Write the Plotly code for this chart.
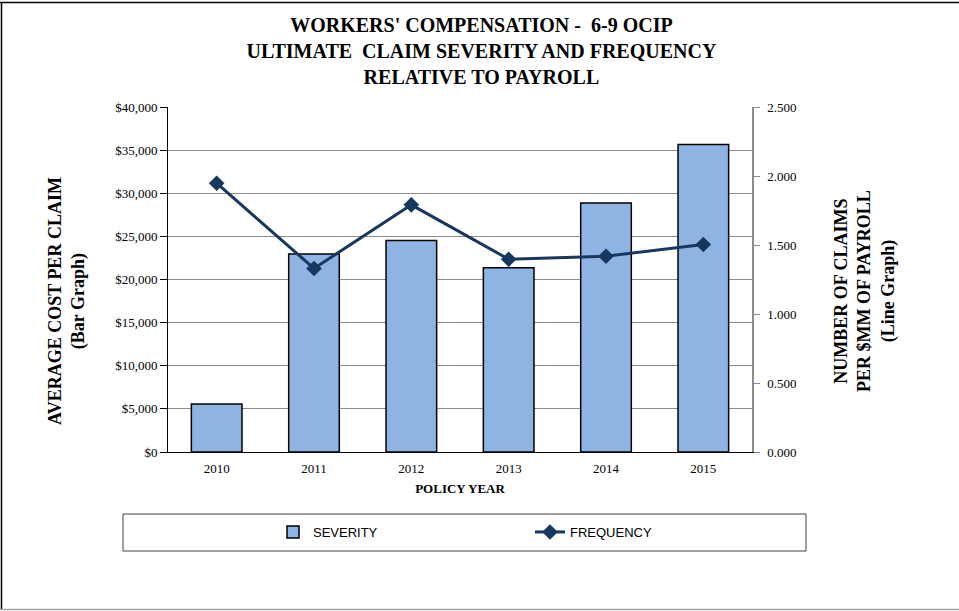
import plotly.graph_objects as go

# Policy years and the two measures plotted against them
years = ["2010", "2011", "2012", "2013", "2014", "2015"]
severity = [5560, 22970, 24520, 21350, 28880, 35640]        # average cost per claim ($)
frequency = [1.948, 1.330, 1.791, 1.397, 1.419, 1.504]      # claims per $MM of payroll

W, H = 959, 611
L, R, T, B = 168, 207, 107, 159
PW, PH = W - L - R, H - T - B


def px_x(x):
    """Pixel column -> paper x."""
    return (x - L) / PW


def px_y(y):
    """Pixel row -> paper y."""
    return (H - B - y) / PH


SERIF = "Liberation Serif"
SANS = "Liberation Sans"
BAR_FILL = "#8DB4E2"
LINE_COL = "#17375E"
GRID = "#8C8C8C"

fig = go.Figure()

fig.add_trace(go.Bar(
    x=years, y=severity, name="SEVERITY",
    marker=dict(color=BAR_FILL, line=dict(color="#000000", width=1.5)),
    yaxis="y",
))
fig.add_trace(go.Scatter(
    x=years, y=frequency, name="FREQUENCY", mode="lines+markers",
    line=dict(color=LINE_COL, width=3),
    marker=dict(symbol="diamond", size=12, color=LINE_COL),
    yaxis="y2",
))

fig.update_layout(
    width=W, height=H,
    margin=dict(l=L, r=R, t=T, b=B),
    paper_bgcolor="white", plot_bgcolor="white",
    bargap=0.48,
    title=dict(
        text="<b>WORKERS' COMPENSATION -  6-9 OCIP<br>ULTIMATE  CLAIM SEVERITY AND FREQUENCY<br>RELATIVE TO PAYROLL</b>",
        x=0.502, xanchor="center", y=1 - 32 / H, yanchor="middle",
        font=dict(family=SERIF, size=20, color="#000000"),
    ),
    xaxis=dict(
        type="category",
        showline=True, linecolor="#000000", linewidth=1,
        ticks="", showgrid=False, ticklabelstandoff=4,
        tickfont=dict(family=SERIF, size=13, color="#000000"),
        title=dict(text="<b>POLICY YEAR</b>", standoff=9,
                   font=dict(family=SERIF, size=13, color="#000000")),
    ),
    yaxis=dict(
        range=[0, 40000], dtick=5000, tickformat="$,.0f",
        showline=True, linecolor="#000000", linewidth=1,
        ticks="outside", ticklen=7, tickcolor="#000000",
        showgrid=True, gridcolor=GRID, gridwidth=1, zeroline=False,
        tickfont=dict(family=SERIF, size=13, color="#000000"),
    ),
    yaxis2=dict(
        range=[0, 2.5], dtick=0.5, tickformat=".3f",
        overlaying="y", side="right",
        showline=True, linecolor=GRID, linewidth=1.5,
        ticks="outside", ticklen=6, tickcolor=GRID,
        showgrid=False, zeroline=False, ticklabelstandoff=5,
        tickfont=dict(family=SERIF, size=13, color="#000000"),
    ),
    legend=dict(
        orientation="h",
        x=px_x(273), xanchor="left",
        y=px_y(532), yanchor="middle",
        entrywidth=212, entrywidthmode="pixels",
        font=dict(family=SANS, size=13, color="#000000"),
        bgcolor="rgba(0,0,0,0)", borderwidth=0,
    ),
    showlegend=True,
)

# Axis titles
fig.add_annotation(
    text="<b>AVERAGE COST PER CLAIM<br>(Bar Graph)</b>",
    xref="paper", yref="paper", x=px_x(67), y=px_y(301),
    xanchor="center", yanchor="middle", textangle=-90, showarrow=False,
    font=dict(family=SERIF, size=18, color="#000000"),
)
fig.add_annotation(
    text="<b>NUMBER OF CLAIMS<br>PER $MM OF PAYROLL<br>(Line Graph)</b>",
    xref="paper", yref="paper", x=px_x(865), y=px_y(291),
    xanchor="center", yanchor="middle", textangle=-90, showarrow=False,
    font=dict(family=SERIF, size=18, color="#000000"),
)

# Legend frame
fig.add_shape(type="rect", xref="paper", yref="paper",
              x0=px_x(123), x1=px_x(806), y0=px_y(551), y1=px_y(514),
              line=dict(color="#404040", width=1), layer="below")

# Outer chart border
fig.add_shape(type="line", xref="paper", yref="paper",
              x0=px_x(0), x1=px_x(W), y0=px_y(2.5), y1=px_y(2.5),
              line=dict(color="#000000", width=1.5))
fig.add_shape(type="line", xref="paper", yref="paper",
              x0=px_x(1.5), x1=px_x(1.5), y0=px_y(2), y1=px_y(609.5),
              line=dict(color="#000000", width=1.5))
fig.add_shape(type="line", xref="paper", yref="paper",
              x0=px_x(0), x1=px_x(W), y0=px_y(609.5), y1=px_y(609.5),
              line=dict(color="#A6A6A6", width=1.5))

fig.write_html("out.html")
